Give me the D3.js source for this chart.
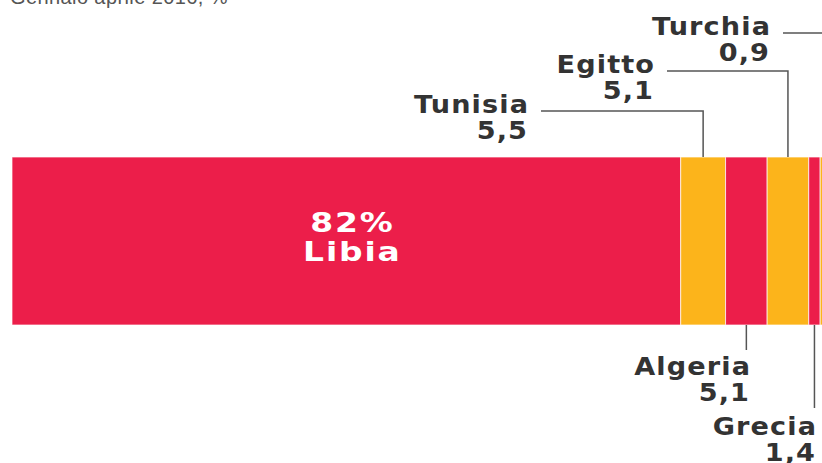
<!DOCTYPE html>
<html lang="it">
<head>
    <meta charset="UTF-8">
    <title>Sbarchi per paese di partenza</title>
    <script src="https://d3js.org/d3.v7.min.js"></script>
    <style>
        body {
            margin: 0;
            background: #fff;
        }

        .label {
            font-family: "DejaVu Sans", sans-serif;
            font-weight: bold;
            font-size: 24px;
            letter-spacing: 1px;
            fill: #333;
            text-anchor: end;
        }

        .inner {
            font-family: "DejaVu Sans", sans-serif;
            font-weight: bold;
            font-size: 27px;
            letter-spacing: 1.5px;
            fill: #fff;
            text-anchor: middle;
        }
    </style>
</head>
<body>
    <div id="chart"></div>

    <script>
        const countries = ["Libia", "Tunisia", "Algeria", "Egitto", "Grecia", "Turchia"];
        const shares = [82, 5.5, 5.1, 5.1, 1.4, 0.9];
        const shareLabels = ["82%", "5,5", "5,1", "5,1", "1,4", "0,9"];
        const subtitle = "Gennaio aprile 2016, %";

        const width = 822;
        const height = 463;

        // where each callout sits: side of the bar, right edge of text, name baseline
        const callouts = {
            Tunisia: { side: "top", tx: 528, ty: 113 },
            Egitto: { side: "top", tx: 654, ty: 73 },
            Turchia: { side: "top", tx: 770, ty: 35 },
            Algeria: { side: "bottom", tx: 750, ty: 375, lineEnd: 350 },
            Grecia: { side: "bottom", tx: 816, ty: 435, lineEnd: 408 }
        };

        const svg = d3.select("#chart")
            .append("svg")
            .attr("width", width)
            .attr("height", height)
            .attr("viewBox", [0, 0, width, height]);

        const data = countries.map((c, i) => ({ country: c, value: shares[i], label: shareLabels[i] }));
        let acc = 0;
        data.forEach(d => { d.start = acc; acc += d.value; d.end = acc; });

        const x = d3.scaleLinear().domain([0, 100]).range([12, 827.5]);
        const y = d3.scaleBand().domain(["2016"]).range([157, 325]).padding(0);

        const color = d3.scaleOrdinal()
            .domain(countries)
            .range(["#ec1e4a", "#fcb41b"]);

        svg.append("text")
            .attr("x", 10)
            .attr("y", 4)
            .attr("fill", "#555")
            .style("font", "20px 'Liberation Sans', sans-serif")
            .style("letter-spacing", "0.4px")
            .text(subtitle);

        svg.selectAll("rect.seg")
            .data(data)
            .join("rect")
            .attr("class", "seg")
            .attr("x", d => x(d.start))
            .attr("y", y("2016"))
            .attr("width", d => x(d.end) - x(d.start))
            .attr("height", y.bandwidth())
            .attr("fill", d => color(d.country))
            .attr("stroke", "#fff")
            .attr("stroke-opacity", 0.7)
            .attr("stroke-width", 1);

        // wide geometric look: stretch the text horizontally around its anchor
        const addText = (cls, tx, ty, sx, str) =>
            svg.append("text")
                .attr("class", cls)
                .attr("transform", `translate(${tx},${ty}) scale(${sx},1)`)
                .text(str);

        // big label inside Libia
        const main = data[0];
        const mx = (x(main.start) + x(main.end)) / 2 + 6;
        addText("inner", mx, 232, 1.22, main.label);
        addText("inner", mx, 261, 1.22, main.country);

        // callouts
        const barTop = y("2016");
        const barBottom = y("2016") + y.bandwidth();
        const ls = 1.1; // trailing letter-spacing to compensate

        data.slice(1).forEach(d => {
            const c = callouts[d.country];
            const cx = (x(d.start) + x(d.end)) / 2;
            const path = d3.path();
            if (c.side === "top") {
                const ly = c.ty - 2;
                path.moveTo(c.tx + 13, ly);
                path.lineTo(cx, ly);
                path.lineTo(cx, barTop);
            } else {
                path.moveTo(cx, barBottom);
                path.lineTo(cx, c.lineEnd);
            }
            svg.append("path")
                .attr("d", path.toString())
                .attr("fill", "none")
                .attr("stroke", "#555")
                .attr("stroke-width", 1.5);

            addText("label", c.tx + ls, c.ty, 1.13, d.country);
            addText("label", c.tx + ls - 1, c.ty + 26, 1.13, d.label);
        });
    </script>
</body>
</html>
